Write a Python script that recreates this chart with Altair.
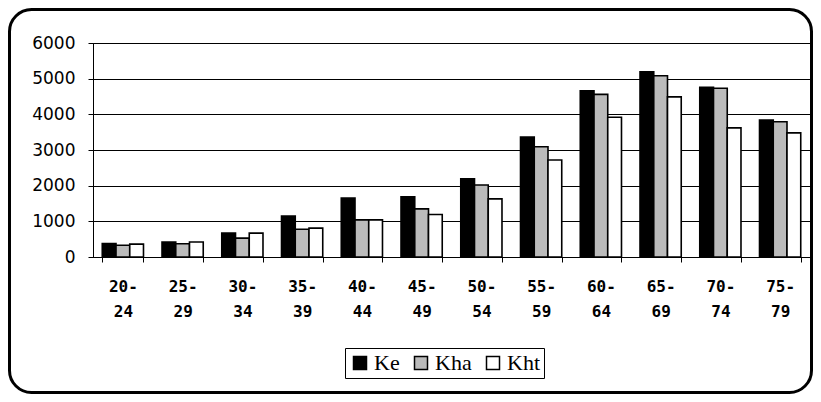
import altair as alt
import pandas as pd

groups = ["20-24", "25-29", "30-34", "35-39", "40-44", "45-49",
          "50-54", "55-59", "60-64", "65-69", "70-74", "75-79"]
ke = [380, 420, 670, 1150, 1650, 1690, 2190, 3360, 4660, 5190, 4760, 3840]
kha = [330, 370, 530, 780, 1040, 1350, 2020, 3090, 4560, 5080, 4730, 3790]
kht = [360, 420, 670, 810, 1040, 1190, 1630, 2720, 3920, 4490, 3620, 3480]
series = ["Ke", "Kha", "Kht"]
colors = ["#000000", "#bbbbbb", "#ffffff"]
y_ticks = [0, 1000, 2000, 3000, 4000, 5000, 6000]

rows = []
for i, g in enumerate(groups):
    for s, vals in zip(series, [ke, kha, kht]):
        rows.append({"group": g, "series": s, "value": vals[i]})
df = pd.DataFrame(rows)

W, H = 717, 214
PL, PT, PR, PB = 85, 35, 3, 137

bars = alt.Chart(df).mark_bar(stroke="black", strokeWidth=1.6).encode(
    x=alt.X(
        "group:N", sort=groups,
        scale=alt.Scale(paddingInner=0.31, paddingOuter=0.155),
        axis=alt.Axis(
            title=None, labelAngle=0,
            labelExpr="[slice(datum.label,0,3), slice(datum.label,3)]",
            labelFont="DejaVu Sans Mono", labelFontWeight="bold",
            labelFontSize=16, labelLineHeight=25, labelPadding=16,
            labelColor="black", tickBand="extent", tickSize=5,
            tickColor="black", domainColor="black", grid=False,
        ),
    ),
    xOffset=alt.XOffset("series:N", sort=series),
    y=alt.Y(
        "value:Q",
        scale=alt.Scale(domain=[0, 6000]),
        axis=alt.Axis(
            title=None, values=y_ticks, format="d", labelFont="DejaVu Sans",
            labelFontSize=17, labelColor="black", labelPadding=13,
            tickSize=5, tickColor="black", domainColor="black",
            grid=True, gridColor="black", gridWidth=1,
        ),
    ),
    color=alt.Color(
        "series:N",
        scale=alt.Scale(domain=series, range=colors),
        legend=alt.Legend(
            title=None, orient="none", legendX=252, legendY=305,
            direction="horizontal", strokeColor="black", fillColor="white",
            padding=4, symbolType="square", symbolSize=169,
            symbolStrokeColor="black", symbolStrokeWidth=1.5,
            labelFont="Liberation Serif", labelFontSize=22,
            labelColor="black", labelOffset=3, columnPadding=10,
        ),
    ),
)

frame = alt.Chart(pd.DataFrame({"a": [0]})).mark_rect(
    fillOpacity=0, stroke="black", strokeWidth=3, cornerRadius=22
).encode(
    x=alt.value(-PL + 1.5), x2=alt.value(W + PR - 1.5),
    y=alt.value(-PT + 1.5), y2=alt.value(H + PB - 1.5),
)

chart = alt.layer(bars, frame).properties(
    width=W, height=H,
    autosize=alt.AutoSizeParams(type="none"),
    padding={"left": PL, "top": PT, "right": PR, "bottom": PB},
    background="white",
).configure_view(stroke="black", strokeWidth=1)

chart.save("out.html", embed_options={"renderer": "svg", "actions": False})
